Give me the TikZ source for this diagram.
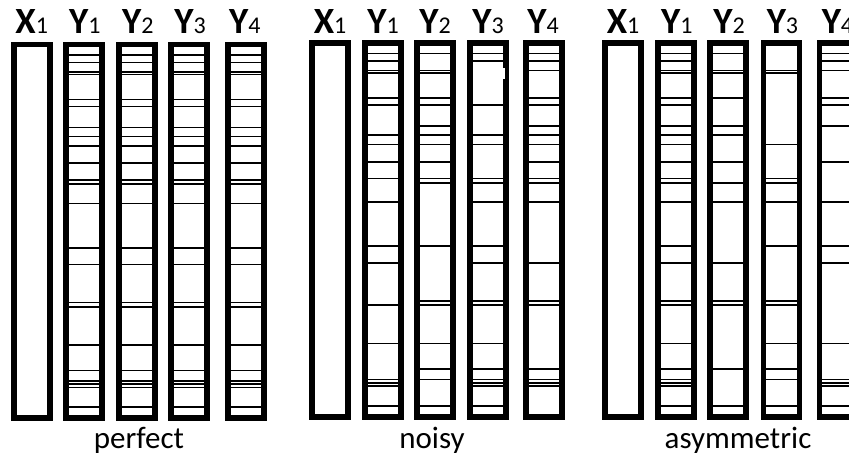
\documentclass[tikz,border=0pt]{standalone}
\usepackage{fontspec}
\setmainfont{Carlito}
\tikzset{
  hdr/.style={anchor=base, inner sep=0pt, font=\fontsize{37}{37}\selectfont\bfseries},
  capt/.style={anchor=base, inner sep=0pt, font=\fontsize{31}{31}\selectfont},
  frame/.style={line width=5.6pt, draw=black},
  tick/.style={line width=1.7pt, draw=black},
}
\newcommand\subd[1]{{\fontsize{24}{24}\mdseries\selectfont #1}}
\newcommand\drawcol[3]{%
  \foreach \yy in {#3} {\draw[tick] ({#1+2.6},{\yy+(#2)}) -- ({#1+38.9},{\yy+(#2)});}
  \draw[frame] ({#1+2.8},{44.5+(#2)}) rectangle ({#1+38.7},{418.2+(#2)});
}
\begin{document}
\begin{tikzpicture}[x=1pt,y=-1pt]
\clip (0,0) rectangle (849,458);
\fill[white] (0,0) rectangle (849,458);
% ---------- perfect ----------
\drawcol{11}{0}{}
\foreach \xl in {63,116,168.3,225}{
  \drawcol{\xl}{0}{55,62.5,72,74.5,99.5,106.5,127.5,136.5,146,163.3,180,184.3,203.5,247.7,264.5,302.5,306.7,345,370.5,381,384.2,387.6,407.3}
}
% ---------- noisy ----------
\drawcol{309.3}{-1.5}{}
\drawcol{362.3}{-1.5}{55,62.5,72,74.5,99.5,106.5,136.5,146,163.3,180,203.5,247.7,264.5,306.7,345,381,384.2,387.6,407.3}
\drawcol{414.3}{-1.5}{55,72,74.5,99.5,106.5,127.5,136.5,146,163.3,180,184.3,247.7,302.5,306.7,345,370.5,381,407.3}
\drawcol{467.3}{-1.5}{55,62.5,106.5,136.5,146,180,184.3,203.5,247.7,264.5,302.5,306.7,345,370.5,381,384.2,387.6,407.3}
\drawcol{523.3}{-1.5}{55,62.5,72,99.5,106.5,127.5,136.5,146,163.3,180,184.3,203.5,264.5,302.5,306.7,370.5,381,384.2,387.6}
\fill[white] (502.7,68.3) rectangle (505.3,79.3);
% ---------- asymmetric ----------
\drawcol{602.3}{-1.5}{}
\drawcol{655}{-1.5}{55,62.5,72,74.5,99.5,106.5,127.5,136.5,146,163.3,180,184.3,203.5,247.7,264.5,302.5,306.7,345,370.5,381,384.2,387.6,407.3}
\drawcol{707.3}{-1.5}{55,72,74.5,99.5,127.5,136.5,163.3,184.3,203.5,264.5,302.5,306.7,370.5,407.3}
\drawcol{760.7}{-1.5}{72,74.5,146,180,184.3,203.5,247.7,302.5,306.7,345,370.5,381,407.3}
\drawcol{816.7}{-1.5}{55,62.5,72,99.5,106.5,127.5,163.3,203.5,247.7,264.5,345,381,384.2,387.6,407.3}
% ---------- headers ----------
\node[hdr] (pX1) at (31.75,33) {X\subd{1}};
\node[hdr] (pY1) at (84.75,33) {Y\subd{1}};
\node[hdr] (pY2) at (137.75,33) {Y\subd{2}};
\node[hdr] (pY3) at (190.05,33) {Y\subd{3}};
\node[hdr] (pY4) at (244.75,33) {Y\subd{4}};
\node[hdr] (nX1) at (330.05,33) {X\subd{1}};
\node[hdr] (nY1) at (383.05,33) {Y\subd{1}};
\node[hdr] (nY2) at (435.05,33) {Y\subd{2}};
\node[hdr] (nY3) at (488.05,33) {Y\subd{3}};
\node[hdr] (nY4) at (543.05,33) {Y\subd{4}};
\node[hdr] (aX1) at (623.05,33) {X\subd{1}};
\node[hdr] (aY1) at (676.75,33) {Y\subd{1}};
\node[hdr] (aY2) at (729.05,33) {Y\subd{2}};
\node[hdr] (aY3) at (782.45,33) {Y\subd{3}};
\node[hdr] (aY4) at (837.45,33) {Y\subd{4}};
% ---------- captions ----------
\node[capt] (cp) at (139,448) {perfect};
\node[capt] (cn) at (432,448) {noisy};
\node[capt] (ca) at (738,448) {asymmetric};
\end{tikzpicture}
\end{document}
